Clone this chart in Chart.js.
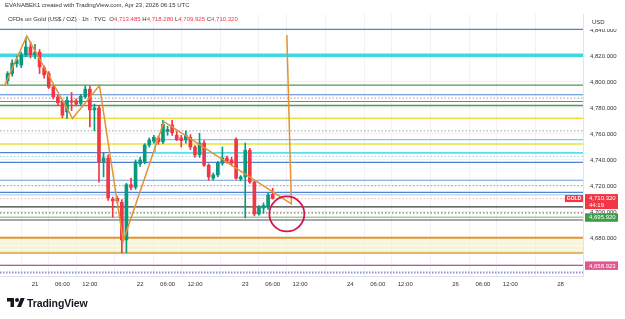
<!DOCTYPE html>
<html><head><meta charset="utf-8">
<script src="https://cdn.jsdelivr.net/npm/chart.js@4/dist/chart.umd.min.js"></script>
<style>
html,body{margin:0;padding:0;background:#fff;width:625px;height:319px;overflow:hidden;font-family:"Liberation Sans",Arial,sans-serif}
#c{position:absolute;left:0;top:0}
#hdr1{position:absolute;left:5px;top:2px;font-size:6px;color:#333;white-space:nowrap}
#hdr2{position:absolute;left:8px;top:16px;font-size:6px;color:#333;white-space:nowrap}
#hdr2 .r{color:#f23645}
#logo{position:absolute;left:7px;top:296px}
#logotxt{position:absolute;left:27px;top:297px;font-size:10.5px;font-weight:bold;color:#131722;letter-spacing:-0.1px}
</style></head>
<body>
<canvas id="c" width="625" height="319"></canvas>
<div id="hdr1">EVANABEK1 created with TradingView.com, Apr 23, 2026 06:15 UTC</div>
<div id="hdr2"></div>
<svg id="logo" width="18" height="14" viewBox="0 0 36 28"><path d="M14 22H7V11H0V4h14v18z" fill="#131722"/><circle cx="20" cy="8" r="4" fill="#131722"/><path d="M28 22h-8l7.5-18h8L28 22z" fill="#131722"/></svg>
<div id="logotxt">TradingView</div>
<script>
// ---- data ----
const barIdx = [-6,-5,-4,-3,-2,-1,0,1,2,3,4,5,6,7,8,9,10,11,12,13,14,15,16,17,18,19,20,21,22,23,24,25,26,27,28,29,30,31,32,33,34,35,36,37,38,39,40,41,42,43,44,45,46,47,48,49,50,51,52];
const opens  = [4801.0,4806.5,4814.0,4813.0,4821.0,4827.0,4821.0,4823.0,4811.0,4806.5,4796.0,4788.5,4784.5,4777.0,4785.5,4785.5,4783.5,4788.5,4794.5,4778.5,4780.0,4738.5,4741.5,4710.0,4710.5,4707.5,4678.5,4721.0,4719.0,4737.0,4738.5,4751.5,4754.5,4757.0,4754.0,4762.0,4767.0,4759.0,4757.0,4755.5,4757.5,4750.0,4744.0,4753.0,4736.0,4726.0,4728.5,4737.5,4741.5,4740.0,4756.0,4725.5,4727.0,4747.5,4723.0,4698.5,4703.0,4704.0,4713.485];
const highs  = [4808.0,4817.0,4820.0,4823.0,4833.5,4831.0,4829.0,4825.0,4812.5,4808.0,4797.5,4790.0,4786.0,4788.5,4792.0,4787.0,4790.5,4797.0,4797.0,4783.0,4782.0,4745.5,4744.0,4711.5,4712.0,4709.5,4722.0,4726.0,4740.0,4742.0,4752.5,4757.0,4759.0,4758.5,4770.5,4766.0,4770.5,4762.0,4759.0,4762.5,4759.5,4751.0,4760.5,4755.0,4737.0,4730.0,4739.0,4750.0,4743.0,4742.0,4757.0,4728.0,4753.0,4749.0,4724.0,4705.0,4707.0,4714.5,4718.280];
const lows   = [4798.5,4804.5,4811.5,4811.0,4819.5,4818.5,4818.0,4806.5,4803.0,4795.0,4787.0,4782.0,4772.5,4772.0,4778.0,4781.5,4782.0,4787.5,4765.5,4762.5,4723.0,4727.0,4709.0,4696.0,4707.0,4668.5,4668.5,4717.0,4717.5,4735.0,4737.0,4750.0,4753.0,4752.0,4752.5,4759.0,4759.0,4755.0,4750.0,4753.0,4748.0,4742.0,4742.0,4735.0,4724.5,4724.5,4727.0,4736.0,4737.5,4735.5,4725.0,4724.0,4695.5,4722.0,4697.0,4697.5,4699.0,4702.0,4709.925];
const closes = [4806.5,4814.5,4817.0,4821.0,4827.0,4821.0,4823.0,4811.5,4805.5,4796.0,4788.5,4784.0,4774.5,4786.0,4784.5,4783.0,4789.0,4794.5,4778.5,4780.0,4738.5,4741.5,4711.0,4708.5,4708.5,4678.5,4721.0,4719.0,4738.5,4740.0,4751.5,4755.5,4757.5,4754.0,4767.5,4763.5,4761.0,4755.5,4755.0,4759.0,4750.0,4744.0,4753.0,4736.0,4727.0,4728.5,4737.5,4741.5,4739.0,4737.5,4726.0,4727.0,4747.5,4723.0,4698.5,4704.0,4705.0,4713.0,4710.320];

// horizontal levels drawn on the chart
const levelPrices = [4840.5,4820.5,4797.6,4790.2,4787.6,4785.0,4781.9,4772.1,4762.4,4752.4,4745.6,4742.8,4738.1,4724.4,4720.2,4715.1,4713.2,4710.32,4703.9,4699.3,4695.92,4693.9,4676.0,4672.3,4668.6,4658.923,4653.5];
const bandTop = 4680.2, bandBottom = 4668.6;
// partial cyan box (start bar, upper price, lower price)
const boxStart = 26.3, boxTop = 4755.7, boxBottom = 4745.6;
// zigzag drawing
const zigIdx   = [-6.6, -1.8, 8.2, 14.1, 19.3, 28.2, 56.1, 55.1];
const zigPrice = [4797.7,4835.4,4772.0,4797.2,4677.7,4769.5,4706.2,4836.2];
// circle mark
const markIdx = [55.1], markPrice = [4698.5];
// axes
const yTicks = [4660,4680,4700,4720,4740,4760,4780,4800,4820,4840];
const xTickIdx = [0,6,12,23,29,35,46,52,58,69,75,81,92,98,104,115];
const xTickLabels = ['21','06:00','12:00','22','06:00','12:00','23','06:00','12:00','24','06:00','12:00','26','06:00','12:00','28'];
// right-axis tags
const lastPrice = 4710.320, countdown = '44:19', greenTag = 4695.920, pinkTag = 4658.923;

// ---- styles ----
const UP = '#089981', DOWN = '#f23645';
const BLUE='#4f84cf', LBLUE='#a9c7ee', CYAN='#3ed8e5', GREEN='#4d9a4f', YEL='#ece13e', DOT='#9aa0a6', ORANGE='#e69232';
const levelStyles = [
 [BLUE,1.3,[]],[CYAN,3.5,[]],[GREEN,1.4,[]],[BLUE,1.2,[]],[DOT,1,[1.5,2]],[BLUE,1.2,[]],[GREEN,1.4,[]],[YEL,1.5,[]],[DOT,1,[1.5,2]],[YEL,1.5,[]],
 [BLUE,1.3,[]],['#8fd3e8',1,[1.5,2]],[BLUE,1.2,[]],['#6e9ad8',1.1,[]],[DOT,1,[1.5,2]],[BLUE,1.1,[]],[LBLUE,1,[]],['#f4a0a8',0.8,[1.5,2]],['#3a3a3a',1.2,[]],['#555',1,[1.5,2]],
 ['#9fd09c',1.5,[]],['#4f564f',1.1,[]],['#f3eec4',1,[]],['#f3eec4',1,[]],[ORANGE,2,[]],['#b35c9c',1.3,[]],['#8e90d6',2,[1.5,1.5]]
];

const XMIN=-7.66, XMAX=119.9, YMIN=4650.77, YMAX=4852.3;
const datasets = [];
datasets.push({type:'scatter',order:0,data:markIdx.map((x,k)=>({x,y:markPrice[k]})),pointRadius:17.5,pointHoverRadius:17.5,pointBorderColor:'#d5174d',pointBackgroundColor:'rgba(0,0,0,0)',pointBorderWidth:1.8});
datasets.push({type:'line',order:1,data:zigIdx.map((x,k)=>({x,y:zigPrice[k]})),borderColor:ORANGE,borderWidth:1.5,pointRadius:0,tension:0});
datasets.push({type:'bar',order:2,data:barIdx.map((x,k)=>({x,y:[opens[k],closes[k]]})),backgroundColor:barIdx.map((x,k)=>closes[k]>=opens[k]?UP:DOWN),barThickness:3,minBarLength:1,grouped:false});
datasets.push({type:'bar',order:3,data:barIdx.map((x,k)=>({x,y:[lows[k],highs[k]]})),backgroundColor:barIdx.map((x,k)=>closes[k]>=opens[k]?UP:DOWN),barThickness:1,grouped:false});
levelPrices.forEach((p,k)=>{
  const s=levelStyles[k];
  datasets.push({type:'line',order:5,data:[{x:XMIN,y:p},{x:XMAX,y:p}],borderColor:s[0],borderWidth:s[1],borderDash:s[2],pointRadius:0});
});
datasets.push({type:'line',order:4,data:[{x:XMAX,y:boxTop},{x:boxStart,y:boxTop},{x:boxStart,y:boxBottom},{x:XMAX,y:boxBottom}],borderColor:'#5cdce8',borderWidth:1.4,pointRadius:0,tension:0});
datasets.push({type:'line',order:4,data:[{x:XMIN,y:bandTop},{x:XMAX,y:bandTop}],borderColor:ORANGE,borderWidth:2,pointRadius:0,fill:{value:bandBottom},backgroundColor:'rgba(245,243,200,0.55)'});

const fmt = v => v.toLocaleString('en-US',{minimumFractionDigits:3,maximumFractionDigits:3});
document.getElementById('hdr2').innerHTML = 'CFDs on Gold (US$ / OZ) · 1h · TVC &nbsp;O<span class="r">'+fmt(opens[opens.length-1])+'</span> H<span class="r">'+fmt(highs[highs.length-1])+'</span> L<span class="r">'+fmt(lows[lows.length-1])+'</span> C<span class="r">'+fmt(closes[closes.length-1])+'</span>';

const tags = {
  id:'tags',
  afterDraw(chart){
    const c=chart.ctx, ys=chart.scales.y, a=chart.chartArea;
    const L=a.right+2, W=33;
    c.save();
    c.textBaseline='middle';
    // USD
    c.fillStyle='#fff'; c.fillRect(a.right+1,a.top,625-a.right,15);
    c.fillStyle='#333'; c.font='6px "Liberation Sans", Arial'; c.textAlign='left';
    c.fillText('USD',a.right+9,a.top+8);
    // pink
    let y=ys.getPixelForValue(pinkTag);
    c.fillStyle='#e0568d'; c.fillRect(L,y-4,W,8.5);
    c.fillStyle='#fff'; c.fillText(fmt(pinkTag),L+4,y+0.5);
    // green
    y=ys.getPixelForValue(greenTag);
    c.fillStyle='#3f9d4a'; c.fillRect(L,y-4,W,8.5);
    c.fillStyle='#fff'; c.fillText(fmt(greenTag),L+4,y+0.5);
    // last price
    y=ys.getPixelForValue(lastPrice);
    c.fillStyle=DOWN; c.fillRect(L,y-4.5,W,15);
    c.fillStyle='#fff'; c.fillText(fmt(lastPrice),L+4,y);
    c.fillText(countdown,L+4,y+6.5);
    c.fillStyle=DOWN; c.fillRect(a.right-18,y-3.5,18,7);
    c.fillStyle='#fff'; c.font='bold 5px "Liberation Sans", Arial'; c.textAlign='center';
    c.fillText('GOLD',a.right-9,y);
    c.restore();
  }
};

new Chart(document.getElementById('c'),{
  data:{datasets},
  options:{
    responsive:false,animation:false,devicePixelRatio:1,
    layout:{autoPadding:false,padding:{left:0,right:0,top:14,bottom:24}},
    plugins:{legend:{display:false},tooltip:{enabled:false}},
    scales:{
      x:{type:'linear',min:XMIN,max:XMAX,offset:false,
         afterBuildTicks:s=>{s.ticks=xTickIdx.map(v=>({value:v}));},
         afterFit:s=>{s.height=19;s.paddingLeft=0;s.paddingRight=0;},
         grid:{color:'#f1f2f5',drawTicks:false},border:{color:'#e0e3eb'},
         ticks:{autoSkip:false,maxRotation:0,padding:5,color:'#333',font:{size:6,family:'"Liberation Sans", Arial'},
                callback:v=>{const k=xTickIdx.indexOf(v);return k>=0?xTickLabels[k]:'';}}},
      y:{type:'linear',position:'right',min:YMIN,max:YMAX,
         afterBuildTicks:s=>{s.ticks=yTicks.map(v=>({value:v}));},
         afterFit:s=>{s.width=42;s.paddingTop=0;s.paddingBottom=0;},
         grid:{color:'#f1f2f5',drawTicks:false},border:{color:'#e0e3eb'},
         ticks:{padding:7,color:'#333',font:{size:6,family:'"Liberation Sans", Arial'},callback:v=>fmt(v)}}
    }
  },
  plugins:[tags]
});
</script>
</body></html>
